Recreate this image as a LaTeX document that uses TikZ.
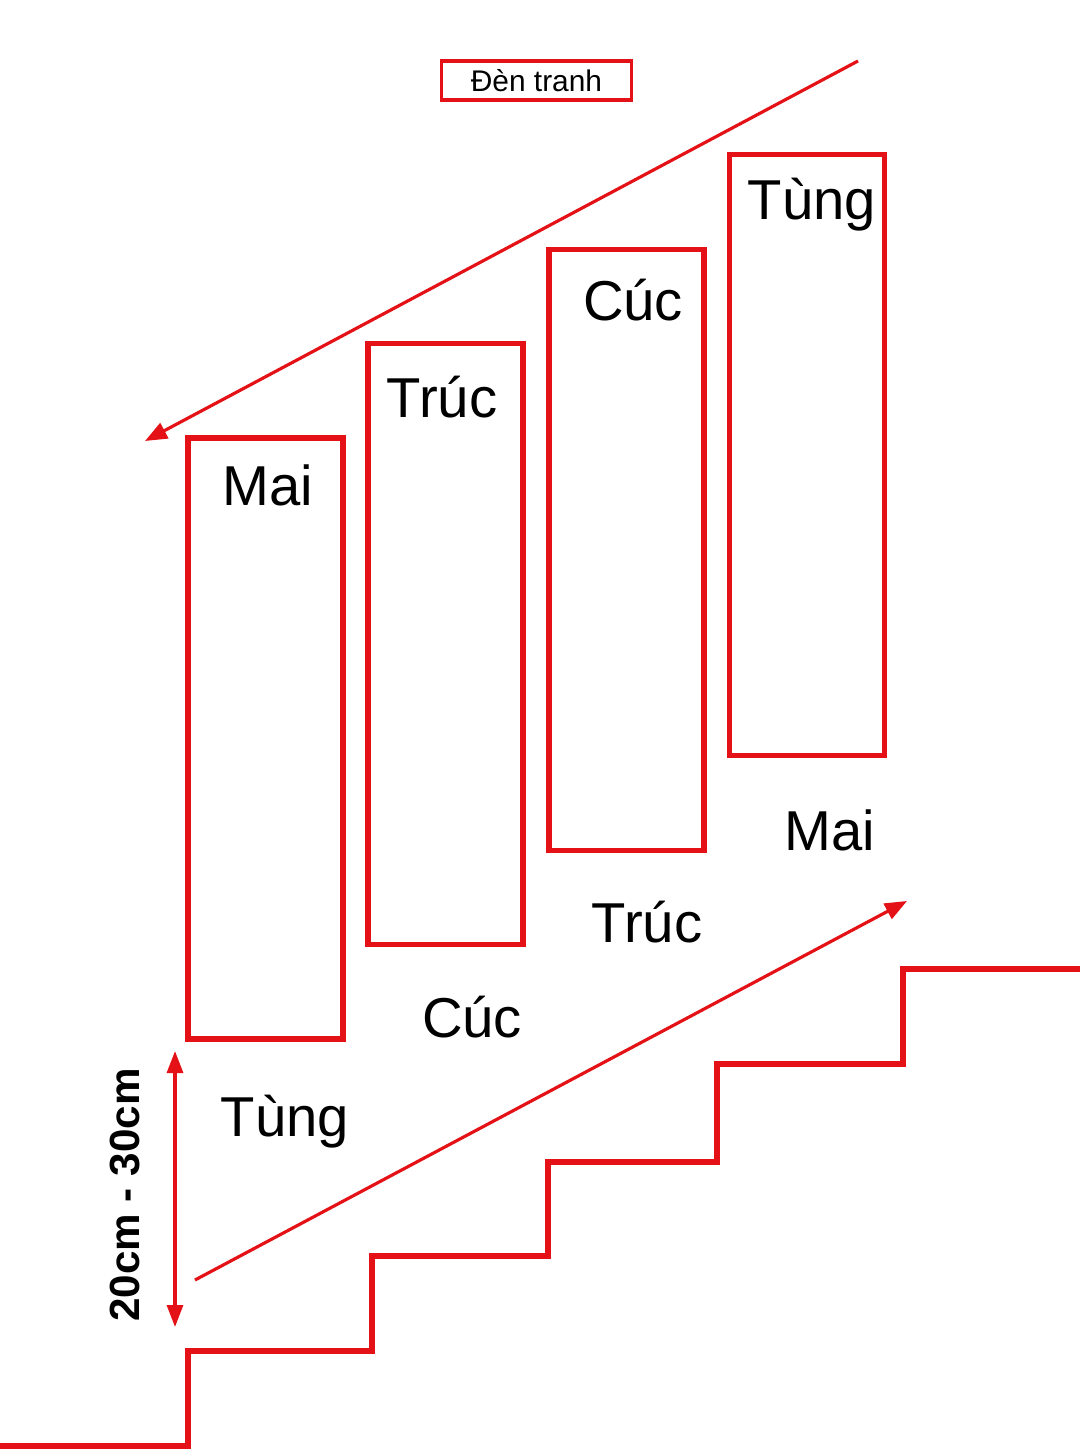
\documentclass[tikz,border=0pt]{standalone}
\usepackage{fontspec}
\setmainfont{Liberation Sans}
\usetikzlibrary{arrows.meta}
\definecolor{stairred}{RGB}{228,18,22}
\tikzset{
  panel/.style={draw=stairred, line width=1.45pt, minimum width=15.5mm, minimum height=60.1mm, inner sep=0pt},
  lbl/.style={font=\fontsize{16}{19}\selectfont, inner sep=0pt},
  guide/.style={draw=stairred, line width=0.9pt, -{Triangle[length=2.2mm,width=1.7mm]}},
  stairline/.style={draw=stairred, line width=1.75pt},
}
\begin{document}
\begin{tikzpicture}[x=0.1mm,y=-0.1mm]
\useasboundingbox[fill=white] (0,0) rectangle (1080,1451);
% title
\node[draw=stairred, line width=0.9pt, minimum width=19mm, minimum height=3.9mm, inner sep=0pt, font=\fontsize{8.5}{10}\selectfont] (title) at (536.5,80.5) {Đèn tranh};
% panels
\node[panel] (p1) at (265.5,738.5) {};
\node[panel] (p2) at (445.5,644) {};
\node[panel] (p3) at (626.5,550) {};
\node[panel] (p4) at (807,455) {};
% labels inside
\node[lbl] (t1) at (268,485) {Mai};
\node[lbl] (t2) at (442,397) {Trúc};
\node[lbl] (t3) at (633,300) {Cúc};
\node[lbl] (t4) at (812,205) {Tùng};
% labels below
\node[lbl] (b1) at (285,1122) {Tùng};
\node[lbl] (b2) at (472,1017) {Cúc};
\node[lbl] (b3) at (647,922) {Trúc};
\node[lbl] (b4) at (830,830) {Mai};
% guide arrows
\coordinate (ta) at (858,61);
\coordinate (tb) at (145,441);
\draw[guide] (ta) -- (tb);
\coordinate (ba) at (195,1280);
\coordinate (bb) at (907,901);
\draw[guide] (ba) -- (bb);
% dimension
\coordinate (da) at (175,1051);
\coordinate (db) at (175,1327);
\draw[draw=stairred, line width=0.9pt, {Triangle[length=2.2mm,width=1.6mm]}-{Triangle[length=2.2mm,width=1.6mm]}] (da) -- (db);
\node[rotate=90, font=\bfseries\fontsize{12}{14}\selectfont, inner sep=0pt] (dim) at (125,1195) {20cm - 30cm};
% stairs
\coordinate (s0) at (0,1446);
\draw[stairline] (s0) -| (188,1351) -| (372,1256) -| (548,1162) -| (717,1064) -| (903,969) -- (1080,969);
\end{tikzpicture}
\end{document}
